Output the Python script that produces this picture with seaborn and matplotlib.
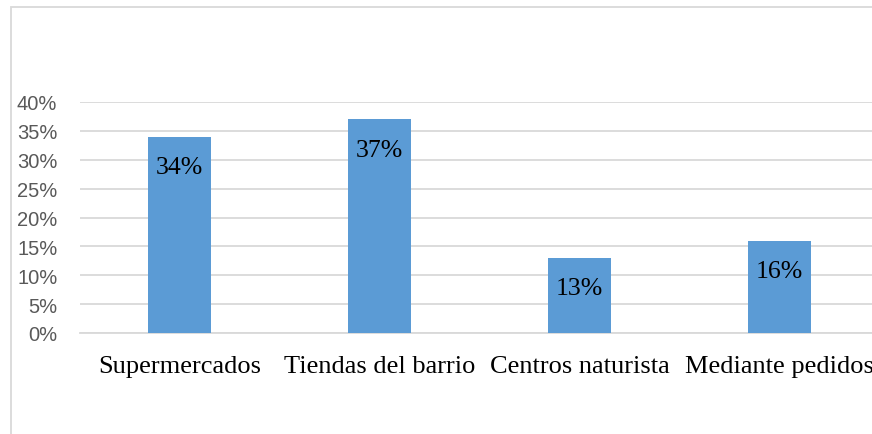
import matplotlib
matplotlib.use("Agg")
import matplotlib.pyplot as plt
import matplotlib.patches as mpatches
from matplotlib.ticker import FuncFormatter, MultipleLocator
import seaborn as sns
import pandas as pd

# Lugar de compra (porcentaje de encuestados)
categorias = ["Supermercados", "Tiendas del barrio", "Centros naturista", "Mediante pedidos"]
porcentajes = [0.34, 0.37, 0.13, 0.16]
etiquetas = ["34%", "37%", "13%", "16%"]

df = pd.DataFrame({"categoria": categorias, "porcentaje": porcentajes})

sns.set_theme(style="white")
W, H = 872, 435
fig = plt.figure(figsize=(W / 100, H / 100), dpi=100)

# chart frame (light gray border, extends past the right and bottom edges)
frame = mpatches.Rectangle((11 / W, -0.1), 1.2, (H - 8) / H + 0.1,
                           transform=fig.transFigure, fill=False,
                           edgecolor="#d9d9d9", linewidth=1.3, zorder=0)
fig.patches.append(frame)

left, right = 79.5, 879.5
top, bottom = 103, 334
ax = fig.add_axes([left / W, (H - bottom) / H, (right - left) / W, (bottom - top) / H])
ax.set_facecolor("none")

sns.barplot(data=df, x="categoria", y="porcentaje", color="#5B9BD5",
            width=0.315, saturation=1, linewidth=0, ax=ax, zorder=3)

ax.set_xlim(-0.5, 3.5)
ax.set_ylim(0, 0.40)
ax.yaxis.set_major_locator(MultipleLocator(0.05))
ax.yaxis.set_major_formatter(FuncFormatter(lambda v, p: f"{v * 100:.0f}%"))
ax.grid(axis="y", color="#d9d9d9", linewidth=1.3, zorder=0)
ax.set_axisbelow(True)
for side in ["top", "right", "left"]:
    ax.spines[side].set_visible(False)
ax.spines["bottom"].set_color("#d9d9d9")
ax.spines["bottom"].set_linewidth(1.3)

ax.set_xlabel("")
ax.set_ylabel("")
ax.tick_params(axis="y", length=0, pad=16, labelsize=14.5, labelcolor="#595959")
ax.tick_params(axis="x", length=0, pad=16, labelsize=19, labelcolor="black")
for lab in ax.get_yticklabels():
    lab.set_fontfamily(["Liberation Sans", "DejaVu Sans"])
for lab in ax.get_xticklabels():
    lab.set_fontfamily(["Liberation Serif", "DejaVu Serif"])

for i, (v, t) in enumerate(zip(porcentajes, etiquetas)):
    ax.annotate(t, xy=(i, v), xytext=(0, -22), textcoords="offset points",
                ha="center", va="center", fontsize=18.5, color="black",
                family=["Liberation Serif", "DejaVu Serif"], zorder=4)

fig.savefig("out.png", dpi=100)
